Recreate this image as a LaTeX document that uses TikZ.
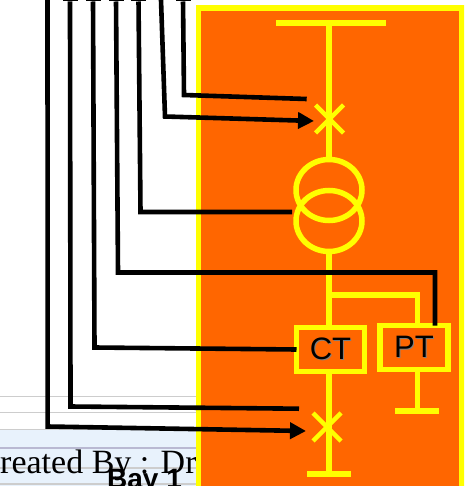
\documentclass[tikz,border=0pt]{standalone}
\usepackage{fontspec}
\setmainfont{Liberation Serif}
\setsansfont{Liberation Sans}
\usetikzlibrary{arrows.meta,shapes.geometric,shapes.misc}
\definecolor{panelfill}{RGB}{255,102,0}
\definecolor{busyel}{RGB}{255,255,0}
\definecolor{stripblue}{RGB}{232,242,252}
\definecolor{rulegray}{RGB}{205,205,205}
\newcommand{\shtext}[1]{\makebox[0pt][l]{\kern1pt\raisebox{-1pt}{\textcolor{gray}{#1}}}#1}
\tikzstyle{wire}=[draw,busyel,line width=5.5pt]
\tikzstyle{sig}=[draw,black,line width=4.6pt,line join=miter]
\tikzstyle{sigarrow}=[sig,-{Triangle[length=16pt,width=16pt]}]
\tikzstyle{bar}=[fill=busyel,inner sep=0pt,outer sep=0pt,minimum height=5.5pt]
\tikzstyle{tick}=[fill=black,inner sep=0pt,outer sep=0pt,minimum width=15pt,minimum height=3pt]
\tikzstyle{breaker}=[draw=busyel,line width=4.5pt,cross out,inner sep=0pt,outer sep=0pt,minimum size=28pt]
\tikzstyle{winding}=[draw=busyel,line width=5.5pt,ellipse,inner sep=0pt,outer sep=0pt,minimum width=66pt,minimum height=61pt]
\tikzstyle{instr}=[draw=busyel,line width=5.5pt,inner sep=0pt,outer sep=0pt,minimum width=68pt,minimum height=44pt,font=\fontsize{31}{31}\sffamily,text=black]
\tikzstyle{strip}=[rulegray,line width=1.5pt]

\begin{document}
\begin{tikzpicture}[x=1pt,y=-1pt]
  \path[use as bounding box,clip] (0,0) rectangle (464,486);
  \fill[white] (0,0) rectangle (464,486);

  % window behind the panel
  \fill[stripblue] (0,430) rectangle (200,486);
  \draw[strip] (0,396.5) -- (200,396.5);
  \draw[strip] (0,412.5) -- (200,412.5);
  \draw[strip] (0,429.5) -- (200,429.5);
  \draw[strip,line width=2pt,rulegray!90!blue] (0,448) -- (200,448);
  \draw[strip] (0,468) -- (200,468);
  \draw[strip] (0,484) -- (200,484);
  \node[anchor=base west,inner sep=0pt,font=\fontsize{34}{34}\selectfont] (credit) at (0,473) {reated By : Dr};
  \node[anchor=base west,inner sep=0pt,font=\fontsize{28}{28}\sffamily\bfseries] (bay) at (107,488) {Bay 1};

  % panel
  \draw[busyel,line width=5.5pt,fill=panelfill] (198.5,8) rectangle (462,500);

  % yellow one-line
  \node[bar,minimum width=110pt] (bus) at (331,23) {};
  \node[breaker] (cb1) at (329.5,119) {};
  \node[winding] (xf1) at (329,190) {};
  \node[winding] (xf2) at (329,221) {};
  \node[instr] (ct) at (330.5,349.5) {\shtext{CT}};
  \node[instr] (pt) at (414,347.5) {\shtext{PT}};
  \node[bar,minimum width=44pt] (ptbar) at (417,411) {};
  \node[breaker] (cb2) at (327,427) {};
  \node[bar,minimum width=44pt] (endbar) at (329,474) {};
  \coordinate (tap) at (329,295);
  \coordinate (ptin) at (417.5,295);

  \path[wire] (xf1 |- bus) -- (xf1.north);
  \path[wire] (xf2.south) -- (xf2.south |- ct.north);
  \path[wire] (xf2 |- ct.south) -- (xf2 |- endbar);
  \path[wire] (tap) -- (ptin) -- (ptin |- pt.north);
  \path[wire] (ptin |- pt.south) -- (ptin |- ptbar);

  % black leads from the top
  \node[tick] (t1) at (70,0) {};
  \node[tick] (t2) at (93,0) {};
  \node[tick] (t3) at (116,0) {};
  \node[tick] (t4) at (138.5,0) {};
  \node[tick] (t5) at (183,0) {};
  \coordinate (t0) at (47.5,0);
  \coordinate (t6) at (161,0);

  \coordinate (a1) at (47.7,426.5);
  \coordinate (a2) at (306,431);
  \coordinate (b1) at (70.5,406.5);
  \coordinate (b2) at (299,408.7);
  \coordinate (c1) at (94.5,347.5);
  \coordinate (d1) at (118,272.5);
  \coordinate (d2) at (435,272.5);
  \coordinate (e1) at (140.5,212);
  \coordinate (e2) at (292,212);
  \coordinate (f1) at (165,116.5);
  \coordinate (f2) at (314,121);
  \coordinate (g1) at (184,95);
  \coordinate (g2) at (306.7,99);

  \path[sigarrow] (t0) -- (a1) -- (a2);
  \path[sig] (t1) -- (b1) -- (b2);
  \path[sig] (t2) -- (c1) -- (ct.west);
  \path[sig] (t3) -- (d1) -- (d2) -- (d2 |- pt.north);
  \path[sig] (t4) -- (e1) -- (e2);
  \path[sigarrow] (t6) -- (f1) -- (f2);
  \path[sig] (t5) -- (g1) -- (g2);
\end{tikzpicture}
\end{document}
